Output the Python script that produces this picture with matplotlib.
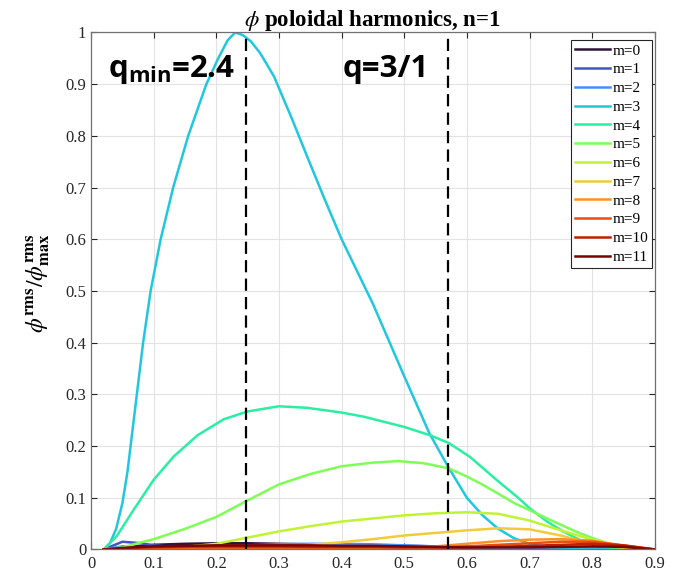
import numpy as np
import matplotlib
matplotlib.use('Agg')
import matplotlib.pyplot as plt
from matplotlib.ticker import MultipleLocator, FormatStrFormatter

plt.rcParams['font.family'] = ['Liberation Serif', 'DejaVu Serif']
plt.rcParams['mathtext.fontset'] = 'custom'
plt.rcParams['mathtext.bf'] = 'Open Sans:bold'
plt.rcParams['mathtext.rm'] = 'Open Sans:bold'

# ---------------- data ----------------
# shared radial grid for the small harmonics
x_small = [0.02, 0.05, 0.08, 0.10, 0.15, 0.20, 0.25, 0.30, 0.35, 0.40,
           0.45, 0.50, 0.55, 0.60, 0.65, 0.70, 0.75, 0.80, 0.85, 0.90]
m0 = [0, 0.004, 0.007, 0.009, 0.011, 0.012, 0.012, 0.011, 0.010, 0.009,
      0.008, 0.007, 0.006, 0.005, 0.004, 0.003, 0.003, 0.003, 0.002, 0]
m1 = [0, 0.015, 0.012, 0.008, 0.003, 0.002, 0.004, 0.006, 0.007, 0.007,
      0.006, 0.005, 0.004, 0.002, 0.001, 0.000, 0.000, 0.001, 0.001, 0]
m2 = [0, 0.006, 0.004, 0.002, -0.002, 0.003, 0.008, 0.010, 0.011, 0.011,
      0.010, 0.008, 0.006, 0.004, 0.002, 0.001, 0.001, 0.002, 0.002, 0]
m6 = [0, 0.001, 0.001, 0.002, 0.005, 0.011, 0.023, 0.035, 0.045, 0.054,
      0.060, 0.066, 0.070, 0.072, 0.069, 0.056, 0.037, 0.019, 0.005, 0]
m7 = [0, 0.001, 0.001, 0.001, 0.001, 0.001, 0.002, 0.005, 0.009, 0.014,
      0.020, 0.027, 0.032, 0.037, 0.041, 0.039, 0.027, 0.011, 0.003, 0]
m8 = [0, 0.001, 0.002, 0.002, 0.003, 0.003, 0.003, 0.003, 0.003, 0.003,
      0.003, 0.004, 0.006, 0.011, 0.016, 0.019, 0.020, 0.017, 0.007, 0]
m9 = [0, 0.002, 0.003, 0.003, 0.004, 0.004, 0.004, 0.004, 0.004, 0.004,
      0.004, 0.004, 0.004, 0.006, 0.009, 0.012, 0.015, 0.015, 0.008, 0]
m10 = [0, 0.002, 0.004, 0.005, 0.006, 0.006, 0.006, 0.006, 0.005, 0.005,
       0.005, 0.004, 0.004, 0.004, 0.005, 0.007, 0.009, 0.011, 0.008, 0]
m11 = [0, 0.003, 0.005, 0.006, 0.007, 0.008, 0.008, 0.008, 0.008, 0.007,
       0.007, 0.006, 0.005, 0.004, 0.004, 0.004, 0.005, 0.006, 0.005, 0]

# dominant harmonics, own grids
x3 = [0.02, 0.03, 0.04, 0.05, 0.058, 0.065, 0.073, 0.083, 0.095, 0.111,
      0.131, 0.155, 0.184, 0.203, 0.218, 0.230, 0.242, 0.255, 0.270, 0.292,
      0.32, 0.345, 0.372, 0.40, 0.45, 0.50, 0.54, 0.571, 0.60, 0.625,
      0.65, 0.675, 0.70, 0.73, 0.76, 0.90]
m3 = [0, 0.012, 0.04, 0.09, 0.15, 0.22, 0.30, 0.40, 0.50, 0.60,
      0.70, 0.80, 0.90, 0.95, 0.985, 1.0, 0.995, 0.983, 0.96, 0.915,
      0.835, 0.76, 0.68, 0.60, 0.475, 0.335, 0.225, 0.158, 0.10, 0.066,
      0.04, 0.022, 0.011, 0.004, 0.001, 0]

x4 = [0.02, 0.041, 0.068, 0.10, 0.132, 0.17, 0.212, 0.25, 0.30, 0.345,
      0.399, 0.435, 0.50, 0.541, 0.571, 0.605, 0.648, 0.68, 0.701, 0.728,
      0.755, 0.781, 0.808, 0.835, 0.86, 0.90]
m4 = [0, 0.026, 0.077, 0.135, 0.18, 0.221, 0.252, 0.267, 0.277, 0.274,
      0.265, 0.257, 0.237, 0.221, 0.206, 0.179, 0.134, 0.102, 0.079, 0.054,
      0.034, 0.018, 0.008, 0.002, 0, 0]

x5 = [0.02, 0.05, 0.068, 0.10, 0.15, 0.20, 0.25, 0.30, 0.35, 0.40,
      0.45, 0.49, 0.53, 0.571, 0.60, 0.621, 0.65, 0.675, 0.70, 0.728,
      0.755, 0.781, 0.81, 0.835, 0.86, 0.90]
m5 = [0, 0.004, 0.01, 0.02, 0.04, 0.063, 0.095, 0.126, 0.146, 0.161,
      0.168, 0.171, 0.167, 0.157, 0.141, 0.128, 0.108, 0.090, 0.076, 0.060,
      0.045, 0.031, 0.018, 0.008, 0.002, 0]

q_min_pos = 0.248
q31_pos = 0.570

series = [(x_small, m0), (x_small, m1), (x_small, m2), (x3, m3), (x4, m4),
          (x5, m5), (x_small, m6), (x_small, m7), (x_small, m8),
          (x_small, m9), (x_small, m10), (x_small, m11)]
labels = ['m=%d' % i for i in range(12)]

# ---------------- plot ----------------
fig = plt.figure(figsize=(6.75, 5.77), dpi=100)
ax = fig.add_axes([0.135, 0.0477, 0.835, 0.896])

colors = plt.cm.turbo(np.linspace(0, 1, 12))
for (xx, yy), c, lab in zip(series, colors, labels):
    ax.plot(xx, yy, color=c, linewidth=1.8, label=lab)

ax.axvline(q_min_pos, color='k', linewidth=1.6, linestyle=(0, (5.5, 2.8)))
ax.axvline(q31_pos, color='k', linewidth=1.6, linestyle=(0, (5.5, 2.8)))

ax.text(0.027, 0.913, r'q$_{\mathbf{min}}$=2.4', fontsize=22.5, fontweight='bold',
        family='Open Sans', math_fontfamily='custom', va='baseline', ha='left')
ax.text(0.402, 0.913, 'q=3/1', fontsize=22.5, fontweight='bold',
        family='Open Sans', va='baseline', ha='left')

ax.set_xlim(0, 0.9)
ax.set_ylim(0, 1)
ax.xaxis.set_major_locator(MultipleLocator(0.1))
ax.yaxis.set_major_locator(MultipleLocator(0.1))
ax.xaxis.set_major_formatter(FormatStrFormatter('%g'))
ax.yaxis.set_major_formatter(FormatStrFormatter('%g'))
ax.grid(True, color='#e3e3e3', linewidth=0.8)
ax.set_axisbelow(True)
ax.tick_params(direction='in', top=True, right=True, length=4,
               labelsize=12, colors='#262626', width=0.8)
ax.tick_params(axis='x', pad=5)
for sp in ax.spines.values():
    sp.set_color('#707070')
    sp.set_linewidth(0.9)

ax.set_title(r'$\phi$ poloidal harmonics, n=1', fontsize=16.5, fontweight='bold',
             math_fontfamily='stix', pad=5)
ax.set_ylabel(r'$\phi^{\mathbf{rms}}/\phi^{\mathbf{rms}}_{\mathbf{max}}$',
              fontsize=17, math_fontfamily='stix')
ax.yaxis.set_label_coords(-0.069, 0.515)

leg = ax.legend(loc='upper right', bbox_to_anchor=(0.996, 0.985),
                borderaxespad=0, fontsize=11, labelspacing=0.33,
                handlelength=2.3, handletextpad=0.2, fancybox=False,
                framealpha=1, edgecolor='#262626', borderpad=0.25)
leg.get_frame().set_linewidth(0.8)

fig.savefig('out.png', dpi=100)
